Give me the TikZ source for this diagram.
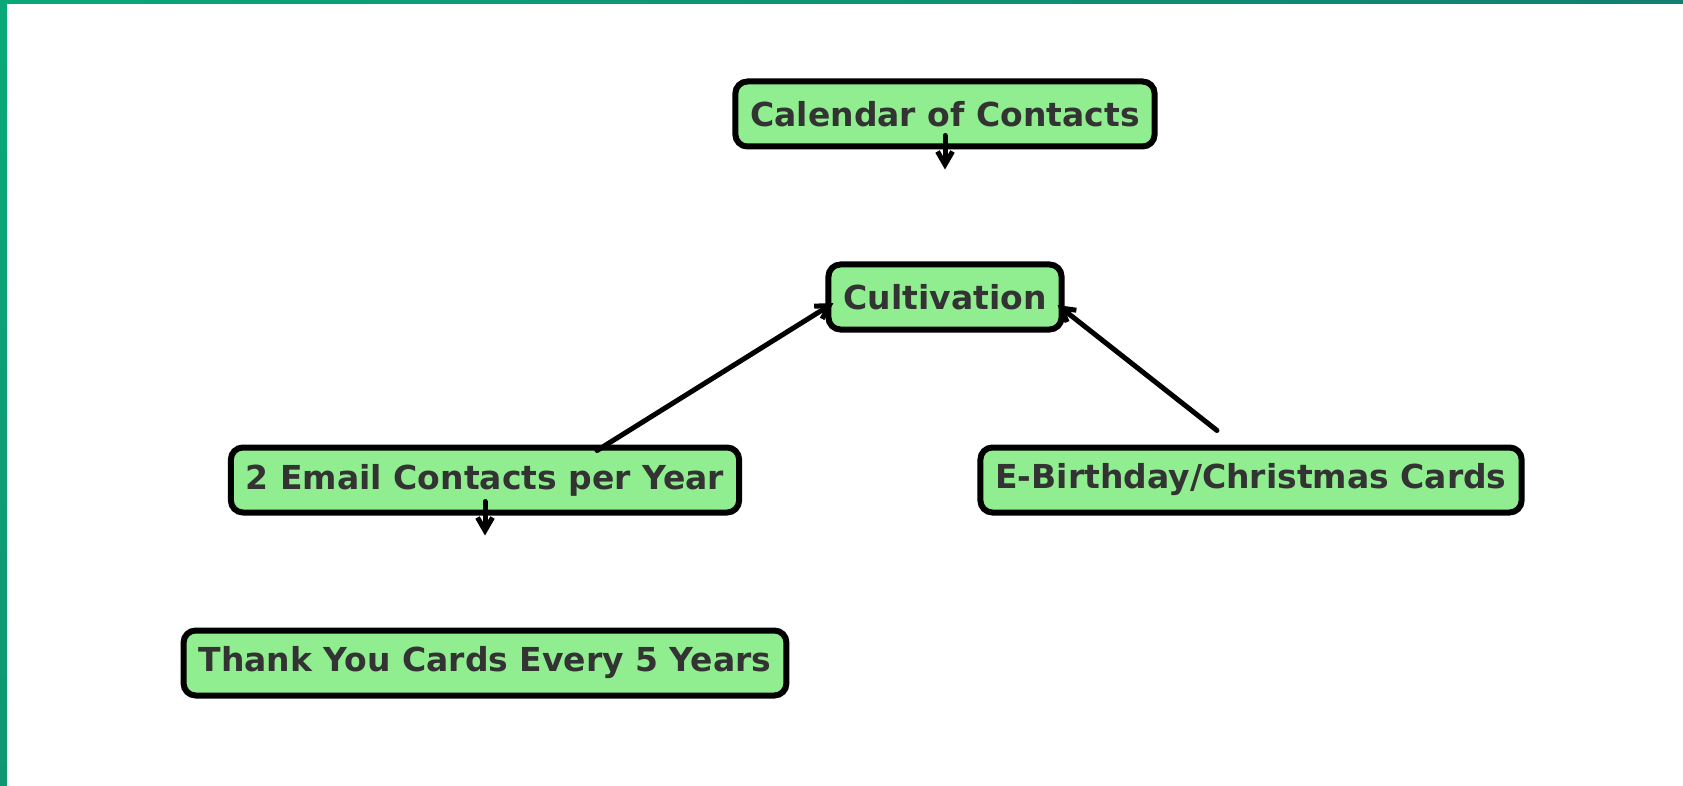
\documentclass[tikz,border=0pt]{standalone}
\usepackage{fontspec}
\setmainfont{DejaVu Sans}
\usetikzlibrary{arrows.meta,calc}
\definecolor{boxfill}{HTML}{90EE90}
\definecolor{txt}{HTML}{333333}
\definecolor{edgeA}{RGB}{10,168,120}
\definecolor{edgeB}{RGB}{18,128,112}
\definecolor{edgeC}{RGB}{16,150,115}
\tikzset{
  stepbox/.style={draw=black, line width=6pt, fill=boxfill, rounded corners=12pt,
    text=txt, font=\fontsize{33}{40}\selectfont\bfseries, outer sep=0pt,
    minimum height=65pt, inner xsep=15pt, inner ysep=0pt},
  link/.style={draw=black, line width=5pt, line cap=round, line join=round,
    -{Straight Barb[length=13pt,width=15pt,line width=5pt]}}
}
\begin{document}
\begin{tikzpicture}[x=1pt,y=-1pt]
\useasboundingbox (0,0) rectangle (1683,786);
\fill[white] (0,0) rectangle (1683,786);
\shade[left color=edgeA, right color=edgeB] (0,0) rectangle (1683,4);
\shade[top color=edgeA, bottom color=edgeC] (0,0) rectangle (7,786);

\node[stepbox] (calendar) at (945,114) {Calendar of Contacts};
\node[stepbox] (cultivation) at (945,297) {Cultivation};
\node[stepbox] (email) at (485,480) {2 Email Contacts per Year};
\node[stepbox] (ebday) at (1251,480) {E-Birthday/Christmas Cards};
\node[stepbox] (thanks) at (485,663) {Thank You Cards Every 5 Years};

\coordinate (calfrom) at ($(calendar.south)+(0,-11)$);
\coordinate (calto) at ($(calendar.south)+(0,23)$);
\draw[link] (calfrom) -- (calto);

\coordinate (emfrom) at ($(email.south)+(0,-11)$);
\coordinate (emto) at ($(email.south)+(0,23)$);
\draw[link] (emfrom) -- (emto);

\coordinate (emup) at ($(email.north)+(112,3)$);
\coordinate (cultin) at ($(cultivation.west)+(5,6)$);
\draw[link] (emup) -- (cultin);

\coordinate (bstart) at ($(ebday.north)+(-34,-17)$);
\coordinate (cultin2) at ($(cultivation.east)+(-4,8)$);
\draw[link] (bstart) -- (cultin2);
\end{tikzpicture}
\end{document}
